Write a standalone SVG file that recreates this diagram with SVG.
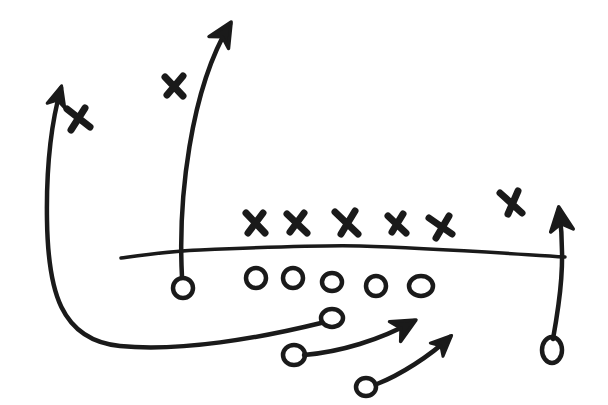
<svg xmlns="http://www.w3.org/2000/svg" width="608" height="405" viewBox="0 0 608 405">
<style>
.x{stroke:#1a1a1a;stroke-width:7;stroke-linecap:round;fill:none}
.o{stroke:#1a1a1a;stroke-width:4.5;fill:none}
.r{stroke:#1a1a1a;stroke-width:4.5;fill:none;stroke-linecap:round}
.los{stroke:#1a1a1a;stroke-width:3.5;fill:none;stroke-linecap:round}
</style>
<defs>
<marker id="ah" markerUnits="userSpaceOnUse" markerWidth="32" markerHeight="32" viewBox="-24 -13 28 26" refX="0" refY="0" orient="auto" overflow="visible">
<path d="M2,0 L-19,-10 L-13,0 L-19,10 Z" fill="#1a1a1a" stroke="#1a1a1a" stroke-width="3" stroke-linejoin="round"/>
</marker>
<marker id="ahs" markerUnits="userSpaceOnUse" markerWidth="30" markerHeight="30" viewBox="-22 -12 26 24" refX="0" refY="0" orient="auto" overflow="visible">
<path d="M2,0 L-16,-8 L-11,0 L-16,8 Z" fill="#1a1a1a" stroke="#1a1a1a" stroke-width="2.5" stroke-linejoin="round"/>
</marker>
</defs>
<rect width="608" height="405" fill="#fff"/>
<path id="line-of-scrimmage" class="los" d="M121,258 C150,254 170,251 200,250 C270,247 330,245 360,246 C430,248 500,253 565,257"/>
<g id="connectors">
<path class="r" d="M182,277 C178,200 190,90 230,24" marker-end="url(#ah)"/>
<path class="r" d="M321,323 C260,338 180,352 120,346 C60,340 48,290 47,220 C46,160 52,120 61,88" marker-end="url(#ahs)"/>
<path class="r" d="M304,355 C340,352 380,340 414,321" marker-end="url(#ah)"/>
<path class="r" d="M377,384 C400,375 430,356 450,337" marker-end="url(#ahs)"/>
<path class="r" d="M553,339 C560,300 566,260 559,209" marker-end="url(#ah)"/>
</g>
<g id="d1"><path class="x" d="M165,77 L183,96 M183,76 L167,95"/></g>
<g id="d2"><path class="x" d="M67,109 L90,127 M85,108 L71,130"/></g>
<g id="d3"><path class="x" d="M246,213 L265,233 M263,213 L248,233"/></g>
<g id="d4"><path class="x" d="M287,214 L307,233 M304,213 L290,232"/></g>
<g id="d5"><path class="x" d="M335,212 L358,234 M355,211 L341,234"/></g>
<g id="d6"><path class="x" d="M388,216 L406,233 M403,214 L392,232"/></g>
<g id="d7"><path class="x" d="M429,218 L452,234 M449,216 L436,238"/></g>
<g id="d8"><path class="x" d="M500,193 L522,213 M518,191 L508,214"/></g>
<g id="o1"><ellipse class="o" cx="183" cy="288" rx="10" ry="10"/></g>
<g id="o2"><ellipse class="o" cx="256" cy="278" rx="10" ry="10"/></g>
<g id="o3"><ellipse class="o" cx="293" cy="278" rx="10" ry="10"/></g>
<g id="o4"><ellipse class="o" cx="332" cy="282" rx="10" ry="9"/></g>
<g id="o5"><ellipse class="o" cx="376" cy="286" rx="10" ry="10"/></g>
<g id="o6"><ellipse class="o" cx="421" cy="286" rx="12" ry="10"/></g>
<g id="o7"><ellipse class="o" cx="332" cy="318" rx="11" ry="9"/></g>
<g id="o8"><ellipse class="o" cx="294" cy="355" rx="11" ry="10"/></g>
<g id="o9"><ellipse class="o" cx="366" cy="387" rx="10" ry="9"/></g>
<g id="o10"><ellipse class="o" cx="552" cy="350" rx="10" ry="13"/></g>
</svg>
